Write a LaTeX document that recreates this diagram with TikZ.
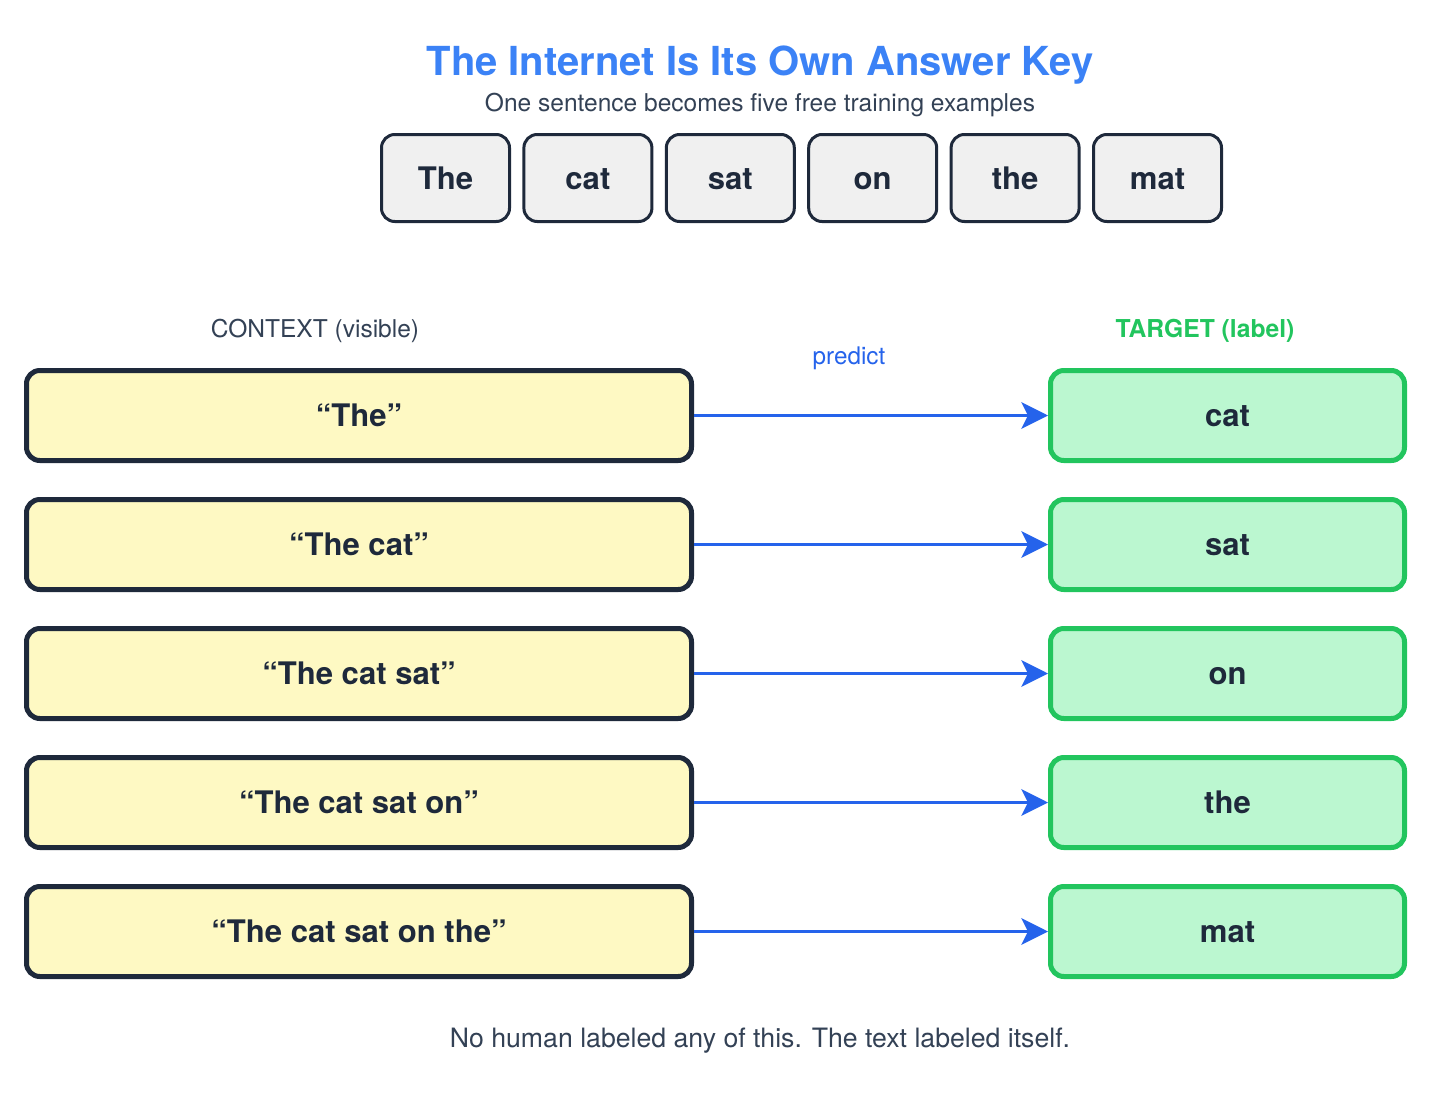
\documentclass[tikz,border=0pt]{standalone}
\usepackage{fontspec}
\setmainfont{TeX Gyre Heros}
\usetikzlibrary{arrows.meta}
\definecolor{ink}{HTML}{1E293B}
\definecolor{slate}{HTML}{334155}
\definecolor{titleblue}{HTML}{3B82F6}
\definecolor{arrowblue}{HTML}{2563EB}
\definecolor{tgreen}{HTML}{22C55E}
\definecolor{tgreenfill}{HTML}{BBF7D0}
\definecolor{cyellow}{HTML}{FEF9C3}
\definecolor{tokfill}{HTML}{F0F0F0}
\begin{document}
\begin{tikzpicture}[x=0.75pt,y=-0.75pt,
  boxtext/.style={text height=16.6pt,text depth=0pt,text=ink,
    font=\fontsize{23.3}{27}\selectfont\bfseries},
  tokbox/.style={boxtext,draw=ink,fill=tokfill,line width=2.25pt,rounded corners=10pt,
    minimum width=96pt,minimum height=65.25pt,inner sep=0pt},
  ctxbox/.style={boxtext,draw=ink,fill=cyellow,line width=3.75pt,rounded corners=10pt,
    minimum width=498.75pt,minimum height=67.5pt,inner sep=0pt},
  tgtbox/.style={boxtext,draw=tgreen,fill=tgreenfill,line width=3.75pt,rounded corners=10pt,
    minimum width=265.5pt,minimum height=67.5pt,inner sep=0pt},
  predarrow/.style={draw=arrowblue,line width=2.25pt,
    -{Stealth[length=20pt,width=20pt,inset=5pt]}},
  plain/.style={inner sep=0pt,anchor=base}
]
\useasboundingbox (0,0) rectangle (1456,1113);

\node[plain,text=titleblue,font=\fontsize{30}{34}\selectfont\bfseries] (title) at (760,75) {The Internet Is Its Own Answer Key};
\node[plain,text=slate,font=\fontsize{18.4}{22}\selectfont] (sub) at (760,111) {One sentence becomes five free training examples};

\foreach \w [count=\i from 0] in {The,cat,sat,on,the,mat}{
  \node[tokbox] (tok\i) at (445.5+142.4*\i,178) {\w};
}

\node[plain,text=slate,font=\fontsize{18.4}{22}\selectfont] (ctxlabel) at (315,337) {CONTEXT (visible)};
\node[plain,text=tgreen,font=\fontsize{18.5}{22}\selectfont\bfseries] (tgtlabel) at (1205,337) {TARGET (label)};
\node[plain,text=arrowblue,font=\fontsize{18.2}{22}\selectfont] (predict) at (849,364) {predict};

\foreach \c/\t [count=\i from 0] in {{“The”}/cat,{“The cat”}/sat,{“The cat sat”}/on,{“The cat sat on”}/the,{“The cat sat on the”}/mat}{
  \node[ctxbox] (ctx\i) at (359,415.5+129*\i) {\c};
  \node[tgtbox] (tgt\i) at (1227.5,415.5+129*\i) {\t};
  \draw[predarrow] (ctx\i.east) -- (tgt\i.west);
}

\node[plain,text=slate,font=\fontsize{20}{24}\selectfont] (foot) at (760,1047) {No human labeled any of this. The text labeled itself.};
\end{tikzpicture}
\end{document}
